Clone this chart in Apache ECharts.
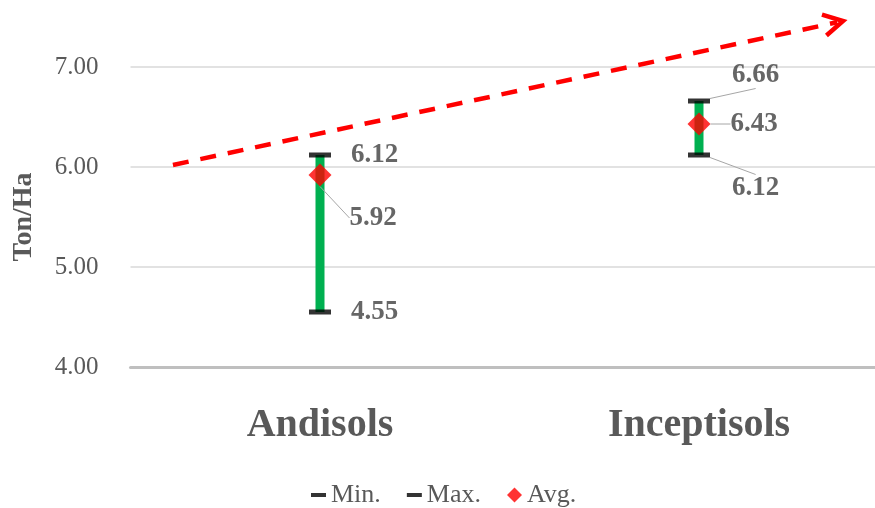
<!DOCTYPE html>
<html>
<head>
<meta charset="utf-8">
<script src="https://cdn.jsdelivr.net/npm/echarts@6/dist/echarts.min.js"></script>
<style>html,body{margin:0;padding:0;background:#fff;}#c{width:875px;height:508px;}</style>
</head>
<body>
<div id="c"></div>
<script>
const categories = ['Andisols', 'Inceptisols'];
const minValues = [4.55, 6.12];
const maxValues = [6.12, 6.66];
const avgValues = [5.92, 6.43];
const yMin = 4, yMax = 7, yStep = 1;
// trend arrow endpoints in (category position, value) space
const trendStart = [-0.388, 6.02];
const trendEnd = [1.38, 7.46];

const FONT = '"Liberation Serif", "DejaVu Serif", serif';
const labelBase = {
  show: true, position: 'right', distance: 20,
  fontFamily: FONT, fontWeight: 'bold', fontSize: 27, color: '#404040',
  formatter: p => Number(p.value).toFixed(2)
};
const leaderOn = { show: true, lineStyle: { color: '#a6a6a6', width: 1 } };
const leaderOff = { show: false };
// which points get a leader line (style only)
const withLeader = (vals, flags) => vals.map((v, i) => ({ value: v, labelLine: flags[i] ? leaderOn : leaderOff }));

const chart = echarts.init(document.getElementById('c'), null, { renderer: 'canvas' });
chart.setOption({
  animation: false,
  backgroundColor: '#fff',
  grid: { left: 130.5, top: 67, width: 758, height: 300, containLabel: false, outerBoundsMode: 'none' },
  legend: {
    left: 306, top: 477, itemGap: 26, itemWidth: 15, itemHeight: 15,
    textStyle: { fontFamily: FONT, fontSize: 26, color: '#595959' },
    data: [
      { name: 'Min.', icon: 'path://M0,0H15V4H0Z' },
      { name: 'Max.', icon: 'path://M0,0H15V4H0Z' },
      { name: 'Avg.', icon: 'diamond' }
    ]
  },
  xAxis: [{
    type: 'category', data: categories, boundaryGap: true,
    axisLine: { lineStyle: { color: '#bfbfbf', width: 3 } },
    axisTick: { show: false },
    axisLabel: { margin: 39, fontFamily: FONT, fontWeight: 'bold', fontSize: 40, color: '#595959' }
  }, {
    type: 'value', min: -0.5, max: 1.5, show: false
  }],
  yAxis: {
    type: 'value', min: yMin, max: yMax, interval: yStep,
    name: 'Ton/Ha', nameLocation: 'middle', nameRotate: 90, nameGap: 93,
    nameTextStyle: { fontFamily: FONT, fontWeight: 'bold', fontSize: 28, color: '#595959' },
    axisLine: { show: false }, axisTick: { show: false },
    axisLabel: { margin: 32, fontFamily: FONT, fontSize: 25, color: '#595959', formatter: v => v.toFixed(2) },
    splitLine: { lineStyle: { color: '#d9d9d9', width: 1.5 } }
  },
  series: [
    {
      type: 'custom', name: 'range', xAxisIndex: 0, z: 1, silent: true,
      data: categories.map((c, i) => [i, minValues[i], maxValues[i]]),
      renderItem: (params, api) => {
        const lo = api.coord([api.value(0), api.value(1)]);
        const hi = api.coord([api.value(0), api.value(2)]);
        const w = 9;
        return { type: 'rect', shape: { x: lo[0] - w / 2, y: hi[1], width: w, height: lo[1] - hi[1] },
                 style: { fill: '#00b050' } };
      }
    },
    {
      type: 'scatter', name: 'Min.', xAxisIndex: 0, z: 3,
      symbol: 'rect', symbolSize: [22, 5], itemStyle: { color: '#000' },
      data: withLeader(minValues, [false, true]),
      label: labelBase,
      labelLayout: p => p.dataIndex === 1 ? { dx: 2, dy: 33 } : {}
    },
    {
      type: 'scatter', name: 'Max.', xAxisIndex: 0, z: 3,
      symbol: 'rect', symbolSize: [22, 5], itemStyle: { color: '#000' },
      data: withLeader(maxValues, [false, true]),
      label: labelBase,
      labelLayout: p => p.dataIndex === 1 ? { dx: 2, dy: -26 } : {}
    },
    {
      type: 'scatter', name: 'Avg.', xAxisIndex: 0, z: 4,
      symbol: 'diamond', symbolSize: 23, itemStyle: { color: '#ff0000' },
      data: withLeader(avgValues, [true, true]),
      label: labelBase,
      labelLayout: p => p.dataIndex === 0 ? { dx: -2, dy: 43 } : { dx: 0, dy: 0 }
    },
    {
      type: 'custom', name: 'trend', xAxisIndex: 1, z: 5, silent: true, clip: false,
      data: [[trendStart[0], trendStart[1], trendEnd[0], trendEnd[1]]],
      encode: { x: [0, 2], y: [1, 3] },
      renderItem: (params, api) => {
        const p0 = api.coord([api.value(0), api.value(1)]);
        const p1 = api.coord([api.value(2), api.value(3)]);
        const a = Math.atan2(p1[1] - p0[1], p1[0] - p0[0]);
        const L = 22, th = 29 * Math.PI / 180;
        const b1 = [p1[0] - L * Math.cos(a - th), p1[1] - L * Math.sin(a - th)];
        const b2 = [p1[0] - L * Math.cos(a + th), p1[1] - L * Math.sin(a + th)];
        const end = [p1[0] - 6 * Math.cos(a), p1[1] - 6 * Math.sin(a)];
        return { type: 'group', children: [
          { type: 'line', shape: { x1: p0[0], y1: p0[1], x2: end[0], y2: end[1] },
            style: { stroke: '#ff0000', lineWidth: 4.5, lineDash: [16, 12] } },
          { type: 'polyline', shape: { points: [b1, p1, b2] },
            style: { stroke: '#ff0000', lineWidth: 4.5, fill: 'none', lineJoin: 'miter' } }
        ] };
      }
    }
  ]
});
</script>
</body>
</html>
